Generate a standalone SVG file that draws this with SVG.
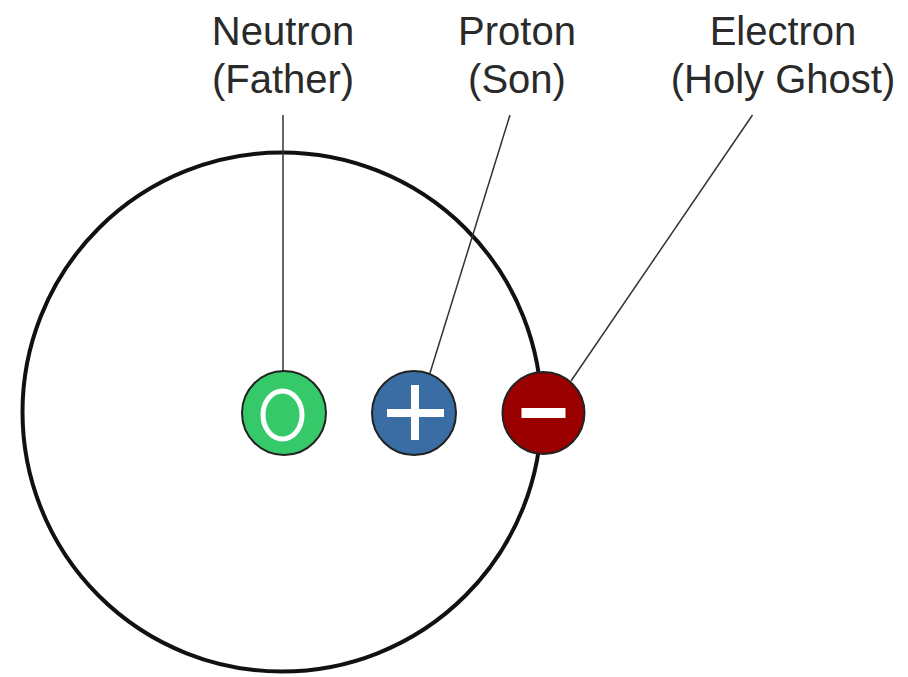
<svg xmlns="http://www.w3.org/2000/svg" width="908" height="677" viewBox="0 0 908 677">
<style>
.lbl{font-family:"Liberation Sans",Arial,sans-serif;font-size:40px;fill:#2a2a2a;text-anchor:middle}
.ptc{stroke:#222;stroke-width:2}
.sym{fill:none;stroke:#fff}
.conn{fill:none;stroke:#333;stroke-width:1.5}
</style>
<rect width="908" height="677" fill="#fff"/>
<g id="orbit"><circle cx="282" cy="412" r="259.5" fill="none" stroke="#111" stroke-width="4"/></g>
<g id="connectors">
<line class="conn" x1="283" y1="115" x2="283" y2="371" stroke-width="2" stroke="#222"/>
<line class="conn" x1="510" y1="115" x2="430" y2="373"/>
<line class="conn" x1="752.5" y1="115" x2="571" y2="381"/>
</g>
<g id="label-neutron"><text class="lbl" x="283" y="45">Neutron</text><text class="lbl" x="283" y="93">(Father)</text></g>
<g id="label-proton"><text class="lbl" x="517" y="45">Proton</text><text class="lbl" x="517" y="93">(Son)</text></g>
<g id="label-electron"><text class="lbl" x="783" y="45">Electron</text><text class="lbl" x="783" y="93">(Holy Ghost)</text></g>
<g id="neutron"><circle class="ptc" cx="284" cy="413" r="42" fill="#36c96a"/><ellipse class="sym" cx="282.5" cy="415" rx="19.5" ry="24" stroke-width="5"/></g>
<g id="proton"><circle class="ptc" cx="414" cy="413" r="42" fill="#3a6da3"/><path class="sym" d="M387 413H444M415 385V440" stroke-width="8"/></g>
<g id="electron"><circle class="ptc" cx="543.5" cy="413" r="41" fill="#9a0000"/><rect x="521.5" y="408" width="44" height="10" fill="#fff"/></g>
</svg>
